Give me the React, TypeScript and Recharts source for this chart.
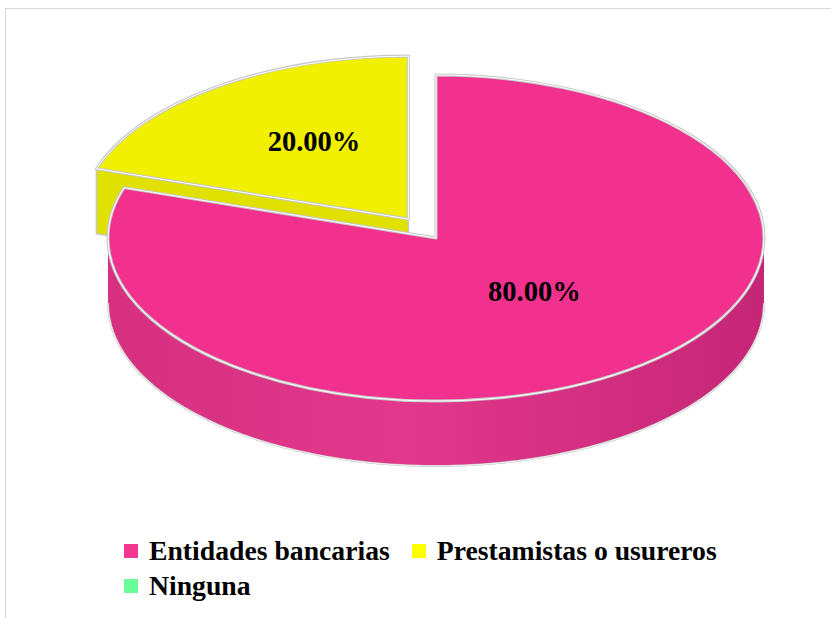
import React from "react";
import { PieChart, Pie, Cell, Legend } from "recharts";

// Fuentes de financiamiento (porcentajes)
const categories = ["Entidades bancarias", "Prestamistas o usureros", "Ninguna"];
const shares = [80, 20, 0];

const topColors = ["#F2318F", "#F0F000", "#66FF99"];
const legendColors = ["#F5368F", "#FFFF00", "#66FF99"];
const sideColors = ["#DC3388", "#E1E100", "#52E488"];
// gradient stops for the curved outer wall (left, middle, right)
const wallColors = [
  ["#D6307F", "#E2388C", "#C62676"],
  ["#D8D800", "#E4E400", "#CACA00"],
  ["#4CDA80", "#58E88E", "#44C877"],
];
const explode = [0, 47, 0];

const data = categories.map((name, i) => ({ name, value: shares[i] }));

const CX = 436;
const CY = 238;
const R = 328;
const TILT = 163 / 328;
const DEPTH = 65;
const FONT = '"Liberation Serif", "Times New Roman", serif';

function point(cx: number, cy: number, r: number, deg: number): [number, number] {
  const a = (deg * Math.PI) / 180;
  return [cx + r * Math.cos(a), cy - r * TILT * Math.sin(a)];
}

function sliceCenter(name: string, cx: number, cy: number, midAngle: number): [number, number] {
  const i = categories.indexOf(name);
  const e = explode[i] ?? 0;
  const a = (midAngle * Math.PI) / 180;
  return [cx + e * Math.cos(a), cy - e * TILT * Math.sin(a)];
}

function TopSlice(props: any) {
  const { cx, cy, outerRadius: r, startAngle, endAngle, midAngle, name } = props;
  if (Math.abs(endAngle - startAngle) < 0.01) return <g />;
  const i = categories.indexOf(name);
  const [x0, y0] = sliceCenter(name, cx, cy, midAngle);
  const [sx, sy] = point(x0, y0, r, startAngle);
  const [ex, ey] = point(x0, y0, r, endAngle);
  const large = Math.abs(endAngle - startAngle) > 180 ? 1 : 0;
  const sweep = endAngle < startAngle ? 1 : 0;
  const d = `M${x0},${y0} L${sx},${sy} A${r},${r * TILT} 0 ${large} ${sweep} ${ex},${ey} Z`;
  return (
    <g>
      <path d={d} fill={topColors[i]} stroke="#C6C6C6" strokeWidth={3} strokeLinejoin="round" />
      <path d={d} fill="none" stroke="#FFFFFF" strokeWidth={1} strokeLinejoin="round" />
    </g>
  );
}

function SideSlice(props: any) {
  const { cx, cy, outerRadius: r, startAngle, endAngle, midAngle, name } = props;
  if (Math.abs(endAngle - startAngle) < 0.01) return <g />;
  const i = categories.indexOf(name);
  const [x0, y0] = sliceCenter(name, cx, cy, midAngle);
  const dir = Math.sign(endAngle - startAngle);
  const parts: React.ReactNode[] = [];

  // flat cut faces
  [
    [startAngle, startAngle - dir * 90],
    [endAngle, endAngle + dir * 90],
  ].forEach(([a, normal], k) => {
    if (Math.sin((normal * Math.PI) / 180) < -0.02) {
      const [px, py] = point(x0, y0, r, a);
      parts.push(
        <path
          key={`f${k}`}
          d={`M${x0},${y0} L${px},${py} L${px},${py + DEPTH} L${x0},${y0 + DEPTH} Z`}
          fill={sideColors[i]}
          stroke="#C6C6C6"
          strokeWidth={1.5}
          strokeLinejoin="round"
        />
      );
    }
  });

  // curved wall, only the part facing the viewer
  const lo = Math.min(startAngle, endAngle);
  const hi = Math.max(startAngle, endAngle);
  for (let k = -2; k <= 1; k++) {
    const a0 = Math.max(lo, 180 + 360 * k);
    const a1 = Math.min(hi, 360 + 360 * k);
    if (a1 - a0 < 0.5) continue;
    const top: [number, number][] = [];
    for (let a = a0; a <= a1 + 1e-6; a += 1) top.push(point(x0, y0, r, Math.min(a, a1)));
    const bottom = top.map(([x, y]) => [x, y + DEPTH] as [number, number]).reverse();
    const d =
      "M" + top.map(([x, y]) => `${x},${y}`).join(" L") + " L" + bottom.map(([x, y]) => `${x},${y}`).join(" L") + " Z";
    const edge = "M" + bottom.map(([x, y]) => `${x},${y}`).join(" L");
    const gid = `wall-${i}-${k + 2}`;
    parts.push(
      <g key={`w${k}`}>
        <defs>
          <linearGradient id={gid} x1="0" y1="0" x2="1" y2="0">
            <stop offset="0" stopColor={wallColors[i][0]} />
            <stop offset="0.45" stopColor={wallColors[i][1]} />
            <stop offset="1" stopColor={wallColors[i][2]} />
          </linearGradient>
        </defs>
        <path d={d} fill={`url(#${gid})`} />
        <path d={edge} fill="none" stroke="#C6C6C6" strokeWidth={2} />
        <path d={edge} fill="none" stroke="#FFFFFF" strokeWidth={0.8} />
      </g>
    );
  }
  return <g>{parts}</g>;
}

function renderLabel(props: any) {
  const { cx, cy, midAngle, outerRadius, percent, name } = props;
  if (!percent) return null;
  const [x0, y0] = sliceCenter(name, cx, cy - 12, midAngle);
  const [x, y] = point(x0, y0, outerRadius * 0.5, midAngle);
  return (
    <text
      x={x + 2}
      y={y}
      textAnchor="middle"
      dominantBaseline="central"
      fill="#000"
      fontFamily={FONT}
      fontWeight="bold"
      fontSize={28.5}
    >
      {`${(percent * 100).toFixed(2)}%`}
    </text>
  );
}

function renderLegend(props: any) {
  const payload = (props.payload ?? []).filter((item: any) => item.type !== "none");
  return (
    <div
      style={{
        display: "flex",
        flexWrap: "wrap",
        width: 620,
        columnGap: 22,
        fontFamily: FONT,
        fontWeight: "bold",
        fontSize: 27.7,
        lineHeight: "35px",
        color: "#000",
      }}
    >
      {payload.map((item: any) => (
        <div key={item.value} style={{ display: "flex", alignItems: "center" }}>
          <span
            style={{
              width: 14,
              height: 14,
              background: legendColors[categories.indexOf(item.value)],
              marginRight: 11,
              display: "inline-block",
            }}
          />
          <span>{item.value}</span>
        </div>
      ))}
    </div>
  );
}

export default function App() {
  return (
    <div style={{ position: "absolute", left: 0, top: 0, width: 831, height: 618, overflow: "hidden", background: "#fff" }}>
      <div
        style={{
          position: "absolute",
          left: 5,
          top: 8,
          width: 840,
          height: 640,
          border: "1px solid #D9D9D9",
          boxSizing: "border-box",
        }}
      />
      <PieChart width={831} height={618} margin={{ top: 0, right: 0, bottom: 0, left: 0 }}>
        <Pie
          data={data}
          dataKey="value"
          nameKey="name"
          cx={CX}
          cy={CY}
          outerRadius={R}
          startAngle={90}
          endAngle={-270}
          legendType="none"
          isAnimationActive={false}
          shape={SideSlice}
          inactiveShape={SideSlice}
          activeShape={SideSlice}
        />
        <Pie
          data={data}
          dataKey="value"
          nameKey="name"
          cx={CX}
          cy={CY}
          outerRadius={R}
          startAngle={90}
          endAngle={-270}
          isAnimationActive={false}
          shape={TopSlice}
          inactiveShape={TopSlice}
          activeShape={TopSlice}
          label={renderLabel}
          labelLine={false}
        >
          {data.map((d, i) => (
            <Cell key={d.name} fill={topColors[i]} stroke="none" />
          ))}
        </Pie>
        <Legend
          content={renderLegend}
          itemSorter={null}
          wrapperStyle={{ position: "absolute", left: 124, top: 533, width: 640, bottom: "auto" }}
        />
      </PieChart>
    </div>
  );
}
